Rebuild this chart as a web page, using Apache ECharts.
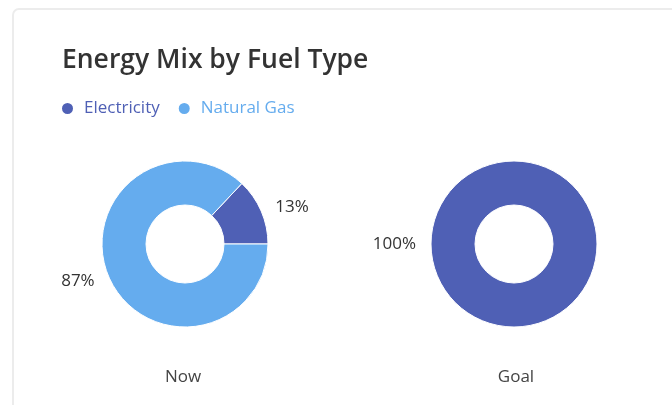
<!DOCTYPE html>
<html>
<head>
<meta charset="utf-8">
<script src="https://cdn.jsdelivr.net/npm/echarts@6/dist/echarts.min.js"></script>
<style>
  html, body { margin: 0; padding: 0; background: #fff; }
  #wrap { position: relative; width: 672px; height: 405px; overflow: hidden; }
  #card {
    position: absolute; left: 12px; top: 8px; width: 720px; height: 440px;
    border: 2px solid #ececec; border-radius: 7px; box-sizing: border-box;
  }
  #chart { position: absolute; left: 0; top: 0; width: 672px; height: 405px; }
</style>
</head>
<body>
<div id="wrap">
  <div id="card"></div>
  <div id="chart"></div>
</div>
<script>
// data
const fuels = ['Electricity', 'Natural Gas'];
const fuelColors = ['#4f60b5', '#65acee'];
const nowShare = [13, 87];
const goalShare = [100, 0];
const panels = ['Now', 'Goal'];

const chart = echarts.init(document.getElementById('chart'));
const font = '"Open Sans", sans-serif';

const toData = (vals) => fuels
  .map((name, i) => ({ name, value: vals[i], itemStyle: { color: fuelColors[i] } }))
  .filter(d => d.value > 0);

const pieBase = (center, vals) => ({
  type: 'pie',
  center: center,
  radius: [39, 83],
  startAngle: 0,
  clockwise: false,
  avoidLabelOverlap: false,
  itemStyle: { borderColor: '#fff', borderWidth: 1 },
  label: {
    show: true,
    formatter: '{d}%',
    color: '#333',
    fontFamily: font,
    fontSize: 17
  },
  labelLine: { show: false, length: 10, length2: 0 },
  emphasis: { scale: false },
  data: toData(vals)
});

const options = {
  animation: false,
  title: [
    {
      text: 'Energy Mix by Fuel Type',
      left: 57, top: 42,
      textStyle: { fontFamily: font, fontSize: 26.5, fontWeight: 600, color: '#333' }
    },
    {
      text: panels[0], left: 178, top: 364, textAlign: 'center',
      textStyle: { fontFamily: font, fontSize: 17, fontWeight: 'normal', color: '#444' }
    },
    {
      text: panels[1], left: 511, top: 364, textAlign: 'center',
      textStyle: { fontFamily: font, fontSize: 17, fontWeight: 'normal', color: '#444' }
    }
  ],
  legend: {
    left: 55, top: 95,
    icon: 'circle',
    itemWidth: 13, itemHeight: 13,
    itemGap: 17,
    textStyle: { fontFamily: font, fontSize: 17, padding: [0, 0, 0, 5] },
    data: fuels.map((name, i) => ({ name, textStyle: { color: fuelColors[i] } }))
  },
  series: [
    pieBase([185, 244], nowShare),
    pieBase([514, 244], goalShare)
  ]
};
chart.setOption(options);
</script>
</body>
</html>
